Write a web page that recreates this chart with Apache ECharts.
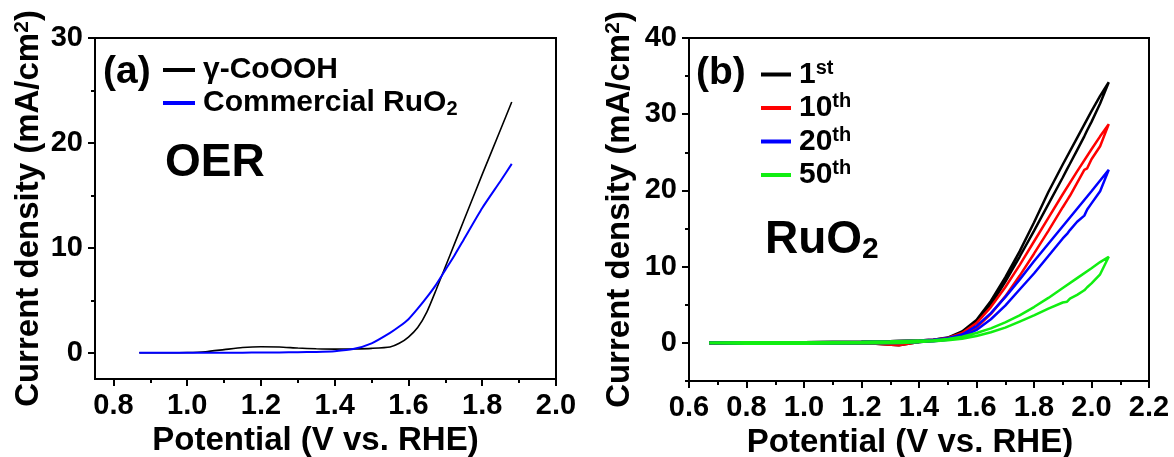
<!DOCTYPE html>
<html>
<head>
<meta charset="utf-8">
<title>OER polarization curves</title>
<script src="https://cdn.jsdelivr.net/npm/echarts@6/dist/echarts.min.js"></script>
<style>
  html, body { margin: 0; padding: 0; background: #fff; }
  #chart { width: 1174px; height: 457px; }
</style>
</head>
<body>
<div id="chart"></div>
<script>
// (a) LSV curves
const aPotential = [0.87, 0.95, 1.0, 1.05, 1.1, 1.15, 1.2, 1.25, 1.3, 1.35, 1.4, 1.45, 1.5, 1.55, 1.575, 1.6, 1.625, 1.65, 1.675, 1.7, 1.725, 1.75, 1.8, 1.85, 1.88];
const coooh = [0, 0, 0.02, 0.1, 0.3, 0.5, 0.58, 0.55, 0.45, 0.38, 0.35, 0.37, 0.42, 0.55, 0.9, 1.5, 2.4, 3.9, 6.0, 8.2, 10.4, 12.6, 17.0, 21.3, 23.9];
const ruo2 = [0, 0, 0, 0, 0, 0.01, 0.02, 0.03, 0.05, 0.08, 0.15, 0.35, 0.9, 1.9, 2.5, 3.2, 4.2, 5.3, 6.5, 7.9, 9.3, 10.8, 13.8, 16.4, 18.0];

// (b) CV cycles of RuO2: forward (upper) and reverse (lower) branches
const bFwdX = [0.67, 0.8, 1.0, 1.2, 1.3, 1.4, 1.45, 1.5, 1.55, 1.6, 1.65, 1.7, 1.75, 1.8, 1.85, 1.9, 1.95, 2.0, 2.03, 2.06];
const bRevX = [2.06, 2.03, 2.0, 1.985, 1.975, 1.95, 1.925, 1.915, 1.9, 1.85, 1.8, 1.75, 1.7, 1.65, 1.6, 1.55, 1.5, 1.45, 1.4, 1.33, 1.25, 1.0, 0.8, 0.67];
const c1Fwd = [0.05, 0.1, 0.1, 0.15, 0.2, 0.3, 0.4, 0.7, 1.5, 3.0, 5.5, 8.6, 12.0, 15.8, 19.8, 23.4, 26.9, 30.4, 32.4, 34.2];
const c1Rev = [34.2, 31.4, 29.0, 27.9, 27.1, 25.3, 23.5, 22.8, 21.7, 18.2, 14.7, 11.3, 8.0, 5.0, 2.6, 1.2, 0.5, 0.3, 0.1, -0.3, -0.1, -0.1, -0.1, -0.05];
const c10Fwd = [0.05, 0.1, 0.1, 0.15, 0.2, 0.3, 0.4, 0.65, 1.3, 2.6, 4.7, 7.3, 10.2, 13.3, 16.4, 19.5, 22.5, 25.4, 27.1, 28.7];
const c10Rev = [28.7, 25.8, 24.1, 22.9, 22.7, 21.0, 19.3, 18.7, 17.8, 14.7, 11.7, 8.8, 6.1, 3.8, 2.0, 0.9, 0.45, 0.25, 0.1, -0.3, -0.1, -0.1, -0.1, -0.05];
const c20Fwd = [0.05, 0.1, 0.1, 0.15, 0.2, 0.3, 0.4, 0.6, 1.1, 2.2, 3.9, 6.0, 8.3, 10.7, 13.0, 15.3, 17.6, 19.9, 21.3, 22.7];
const c20Rev = [22.7, 19.9, 18.3, 17.5, 16.7, 15.9, 14.8, 14.3, 13.7, 11.4, 9.1, 7.0, 4.9, 3.1, 1.7, 0.8, 0.4, 0.2, 0.1, 0.0, -0.05, -0.1, -0.1, -0.05];
const c50Fwd = [0.05, 0.1, 0.1, 0.15, 0.2, 0.3, 0.35, 0.5, 0.8, 1.3, 1.9, 2.7, 3.6, 4.7, 5.9, 7.2, 8.5, 9.8, 10.6, 11.3];
const c50Rev = [11.3, 9.0, 7.8, 7.3, 6.9, 6.3, 5.8, 5.4, 5.3, 4.5, 3.6, 2.8, 2.0, 1.4, 0.9, 0.55, 0.35, 0.2, 0.1, 0.0, -0.05, -0.1, -0.1, -0.05];

// tick values
const aXMajor = [0.8, 1.0, 1.2, 1.4, 1.6, 1.8, 2.0];
const aXMinor = [0.9, 1.1, 1.3, 1.5, 1.7, 1.9];
const aYMajor = [0, 10, 20, 30];
const aYMinor = [5, 15, 25];
const bXMajor = [0.6, 0.8, 1.0, 1.2, 1.4, 1.6, 1.8, 2.0, 2.2];
const bXMinor = [0.7, 0.9, 1.1, 1.3, 1.5, 1.7, 1.9, 2.1];
const bYMajor = [0, 10, 20, 30, 40];
const bYMinor = [-5, 5, 15, 25, 35];

const FONT = 'Liberation Sans, Arial, sans-serif';
const black = '#000';

function pairs(xs, ys) {
  return xs.map((x, i) => [x, ys[i]]);
}
function loop(fx, fy, rx, ry) {
  return pairs(fx, fy).concat(pairs(rx, ry).slice(1));
}

const tickLabel = { fontFamily: FONT, fontWeight: 'bold', fontSize: 29, color: black };
const axisName = {
  fontFamily: FONT, fontWeight: 'bold', fontSize: 33, color: black,
  rich: { sup: { fontFamily: FONT, fontWeight: 'bold', fontSize: 21, color: black, padding: [0, 0, 13, 0] } }
};

// panel rectangles; the tick overlays reuse them. outerBoundsMode none keeps
// ECharts 6 from shrinking the grid to fit the axis names.
const rectA = { left: 95, top: 38, width: 461, height: 341, containLabel: false, outerBoundsMode: 'none' };
const rectB = { left: 689, top: 38, width: 460, height: 343, containLabel: false, outerBoundsMode: 'none' };

// axis with line, labels and name
function mainAxis(grid, min, max, majors, digits, name, gap, namePad) {
  return {
    type: 'value', gridIndex: grid, min: min, max: max,
    axisLine: { show: true, onZero: false, lineStyle: { color: black, width: 2 } },
    axisTick: { show: false },
    axisLabel: { customValues: majors, margin: 12, formatter: v => v.toFixed(digits), ...tickLabel },
    splitLine: { show: false },
    name: name, nameLocation: 'middle', nameGap: gap,
    nameTextStyle: { ...axisName, padding: namePad }
  };
}
// ticks only, each on its own overlay grid so positions do not get flipped
function tickAxis(grid, min, max, vals, pos, len) {
  return {
    type: 'value', gridIndex: grid, min: min, max: max, position: pos,
    axisLine: { show: false, onZero: false },
    axisTick: { show: true, length: len, lineStyle: { color: black, width: 2 }, customValues: vals },
    axisLabel: { show: false },
    splitLine: { show: false }
  };
}

const xName = 'Potential (V vs. RHE)';
const yName = 'Current density (mA/cm{sup|2})';

const legendRich = {
  sub: { fontFamily: FONT, fontWeight: 'bold', fontSize: 20, color: black, padding: [13, 0, 0, 0] },
  sup: { fontFamily: FONT, fontWeight: 'bold', fontSize: 20, color: black, padding: [0, 0, 13, 0] }
};

const chart = echarts.init(document.getElementById('chart'));
chart.setOption({
  animation: false,
  backgroundColor: '#fff',
  grid: [
    { ...rectA, show: true, borderColor: black, borderWidth: 2, backgroundColor: 'transparent' },
    { ...rectB, show: true, borderColor: black, borderWidth: 2, backgroundColor: 'transparent' },
    { ...rectA }, { ...rectA },
    { ...rectB }, { ...rectB }
  ],
  xAxis: [
    mainAxis(0, 0.75, 2.0, aXMajor, 1, xName, 43, [0, 20, 0, 0]),
    mainAxis(1, 0.6, 2.2, bXMajor, 1, xName, 43, [0, 18, 0, 0]),
    tickAxis(2, 0.75, 2.0, aXMajor, 'bottom', 7),
    tickAxis(3, 0.75, 2.0, aXMinor, 'bottom', 4),
    tickAxis(4, 0.6, 2.2, bXMajor, 'bottom', 7),
    tickAxis(5, 0.6, 2.2, bXMinor, 'bottom', 4)
  ],
  yAxis: [
    mainAxis(0, -2.5, 30, aYMajor, 0, yName, 49, 0),
    mainAxis(1, -5, 40, bYMajor, 0, yName, 52, 0),
    tickAxis(2, -2.5, 30, aYMajor, 'left', 7),
    tickAxis(3, -2.5, 30, aYMinor, 'left', 4),
    tickAxis(4, -5, 40, bYMajor, 'left', 7),
    tickAxis(5, -5, 40, bYMinor, 'left', 4)
  ],
  legend: [
    {
      orient: 'vertical', left: 158, top: 50, itemWidth: 32, itemHeight: 4, itemGap: 3,
      icon: 'rect', data: ['γ-CoOOH', 'Commercial RuO2'],
      formatter: n => n.replace('RuO2', 'RuO{sub|2}'),
      textStyle: { fontFamily: FONT, fontWeight: 'bold', fontSize: 30, color: black, padding: [0, 0, 0, 3], rich: legendRich }
    },
    {
      orient: 'vertical', left: 756, top: 53, itemWidth: 30, itemHeight: 4, itemGap: 2,
      icon: 'rect', data: ['1st', '10th', '20th', '50th'],
      formatter: n => n.replace(/(\d+)(st|th)/, '$1{sup|$2}'),
      textStyle: { fontFamily: FONT, fontWeight: 'bold', fontSize: 30, color: black, padding: [0, 0, 0, 3], rich: legendRich }
    }
  ],
  graphic: [
    { type: 'text', x: 103, y: 72, style: { text: '(a)', font: 'bold 39px ' + FONT, fill: black, verticalAlign: 'middle' } },
    { type: 'text', x: 165, y: 163, style: { text: 'OER', font: 'bold 46px ' + FONT, fill: black, verticalAlign: 'middle' } },
    { type: 'text', x: 696, y: 73, style: { text: '(b)', font: 'bold 39px ' + FONT, fill: black, verticalAlign: 'middle' } },
    {
      type: 'text', x: 765, y: 240,
      style: {
        text: 'RuO{sub|2}', font: 'bold 46px ' + FONT, fill: black, verticalAlign: 'middle',
        rich: { sub: { font: 'bold 30px ' + FONT, fill: black, padding: [20, 0, 0, 0] } }
      }
    }
  ],
  series: [
    { name: 'γ-CoOOH', type: 'line', xAxisIndex: 0, yAxisIndex: 0, data: pairs(aPotential, coooh), smooth: 0.2, showSymbol: false, color: black, lineStyle: { width: 1.6 } },
    { name: 'Commercial RuO2', type: 'line', xAxisIndex: 0, yAxisIndex: 0, data: pairs(aPotential, ruo2), smooth: 0.2, showSymbol: false, color: '#0000ff', lineStyle: { width: 2 } },
    { name: '1st', type: 'line', xAxisIndex: 1, yAxisIndex: 1, data: loop(bFwdX, c1Fwd, bRevX, c1Rev), showSymbol: false, color: black, lineStyle: { width: 2.5 } },
    { name: '10th', type: 'line', xAxisIndex: 1, yAxisIndex: 1, data: loop(bFwdX, c10Fwd, bRevX, c10Rev), showSymbol: false, color: '#ff0000', lineStyle: { width: 2.5 } },
    { name: '20th', type: 'line', xAxisIndex: 1, yAxisIndex: 1, data: loop(bFwdX, c20Fwd, bRevX, c20Rev), showSymbol: false, color: '#0000ff', lineStyle: { width: 2.5 } },
    { name: '50th', type: 'line', xAxisIndex: 1, yAxisIndex: 1, data: loop(bFwdX, c50Fwd, bRevX, c50Rev), showSymbol: false, color: '#11ee11', lineStyle: { width: 2.5 } }
  ]
});
</script>
</body>
</html>
